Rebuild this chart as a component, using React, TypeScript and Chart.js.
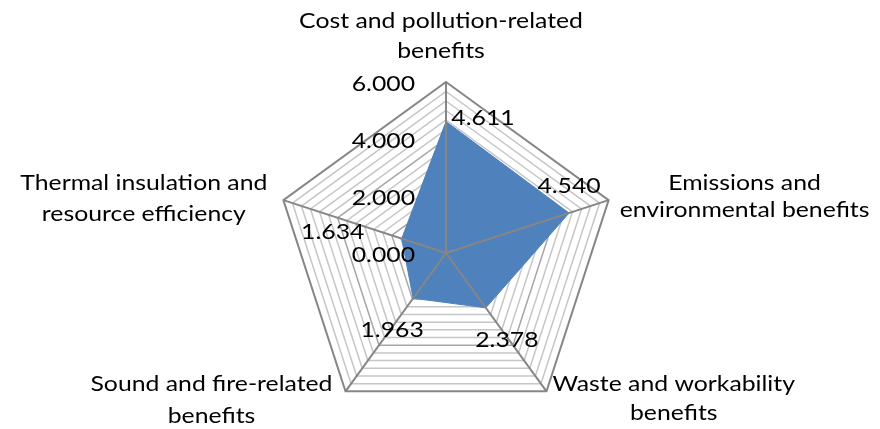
import React, { useEffect, useRef } from 'react';
import { Chart, registerables } from 'chart.js';

Chart.register(...registerables);

// ---- data ----
const CATEGORIES: string[][] = [
  ['Cost and pollution-related', 'benefits'],
  ['Emissions and', 'environmental benefits'],
  ['Waste and workability', 'benefits'],
  ['Sound and fire-related', 'benefits'],
  ['Thermal insulation and', 'resource efficiency'],
];
const VALUES: number[] = [4.611, 4.54, 2.378, 1.963, 1.634];
const VALUE_LABELS: string[] = ['4.611', '4.540', '2.378', '1.963', '1.634'];
const TICK_VALUES: number[] = [0, 2, 4, 6];
const TICK_LABELS: string[] = ['0.000', '2.000', '4.000', '6.000'];
const AXIS_MIN = 0;
const AXIS_MAX = 6;
const MAJOR_STEP = 2;
const MINOR_PER_MAJOR = 6;

// ---- style ----
const FONT_FAMILY = 'Lato, "Open Sans", sans-serif';
const FONT_SIZE = 21;
const X_STRETCH = 1.18;
const TEXT_COLOR = '#000000';
const FILL_COLOR = '#4F81BD';
const SPOKE_COLOR = '#868686';
const OUTER_COLOR = '#868686';
const MAJOR_COLOR = '#a6a6a6';
const MINOR_COLOR = '#c6c6c6';

// label placement relative to points / vertices (style, not data)
const VALUE_LABEL_OFFSETS: [number, number][] = [
  [37, -3],
  [0, -27],
  [21, 32],
  [-21, 32],
  [-69, -6],
];
const CAT_LABEL_LAYOUT = [
  { align: 'center', dx: -5, dy: -61, lh: 30 },
  { align: 'left', dx: 11, dy: -17, lh: 27 },
  { align: 'left', dx: 6, dy: -7, lh: 29 },
  { align: 'right', dx: -13, dy: -7, lh: 32 },
  { align: 'right', dx: -16, dy: -17, lh: 31 },
];

const RINGS: number[] = [];
for (let k = 0; k <= ((AXIS_MAX - AXIS_MIN) / MAJOR_STEP) * MINOR_PER_MAJOR; k++) {
  RINGS.push(AXIS_MIN + (k * MAJOR_STEP) / MINOR_PER_MAJOR);
}

const isMajor = (v: number) => Math.abs(v / MAJOR_STEP - Math.round(v / MAJOR_STEP)) < 1e-6;

function drawText(ctx: CanvasRenderingContext2D, text: string, x: number, y: number, align: CanvasTextAlign) {
  ctx.save();
  ctx.translate(x, y);
  ctx.scale(X_STRETCH, 1);
  ctx.textAlign = align;
  ctx.fillText(text, 0, 0);
  ctx.restore();
}

const overlayPlugin = {
  id: 'overlay',
  afterDatasetsDraw(chart: any) {
    const scale = chart.scales.r;
    const ctx: CanvasRenderingContext2D = chart.ctx;
    const cx = scale.xCenter;
    const cy = scale.yCenter;
    const n = CATEGORIES.length;
    ctx.save();
    ctx.strokeStyle = SPOKE_COLOR;
    ctx.lineWidth = 2;
    for (let i = 0; i < n; i++) {
      const p = scale.getPointPosition(i, scale.drawingArea);
      ctx.beginPath();
      ctx.moveTo(cx, cy);
      ctx.lineTo(p.x, p.y);
      ctx.stroke();
    }
    ctx.font = `${FONT_SIZE}px ${FONT_FAMILY}`;
    ctx.fillStyle = TEXT_COLOR;
    ctx.textBaseline = 'middle';
    TICK_VALUES.forEach((v, i) => {
      const d = scale.getDistanceFromCenterForValue(v);
      drawText(ctx, TICK_LABELS[i], cx - 31, cy - d + 2, 'right');
    });
    VALUES.forEach((v, i) => {
      const p = scale.getPointPosition(i, scale.getDistanceFromCenterForValue(v));
      const [ox, oy] = VALUE_LABEL_OFFSETS[i];
      drawText(ctx, VALUE_LABELS[i], p.x + ox, p.y + oy, 'center');
    });
    CATEGORIES.forEach((lines, i) => {
      const p = scale.getPointPosition(i, scale.drawingArea);
      const lay = CAT_LABEL_LAYOUT[i];
      const w = Math.max(...lines.map((l) => ctx.measureText(l).width)) * X_STRETCH;
      let centerX = p.x + lay.dx;
      if (lay.align === 'left') centerX = p.x + lay.dx + w / 2;
      if (lay.align === 'right') centerX = p.x + lay.dx - w / 2;
      lines.forEach((l, j) => {
        drawText(ctx, l, centerX, p.y + lay.dy + j * lay.lh, 'center');
      });
    });
    ctx.restore();
  },
};

export default function App() {
  const ref = useRef<HTMLCanvasElement | null>(null);
  useEffect(() => {
    if (!ref.current) return;
    const chart = new Chart(ref.current, {
      type: 'radar',
      data: {
        labels: CATEGORIES.map((c) => c.join(' ')),
        datasets: [
          {
            data: VALUES,
            backgroundColor: FILL_COLOR,
            borderColor: FILL_COLOR,
            borderWidth: 1,
            fill: true,
            pointRadius: 0,
            pointHoverRadius: 0,
          },
        ],
      },
      options: {
        animation: false,
        responsive: false,
        devicePixelRatio: 1,
        events: [],
        layout: { padding: { left: 275, right: 263, top: 82, bottom: 5 } },
        plugins: { legend: { display: false }, tooltip: { enabled: false }, title: { display: false } },
        scales: {
          r: {
            min: AXIS_MIN,
            max: AXIS_MAX,
            afterBuildTicks: (scale: any) => {
              scale.ticks = RINGS.map((v) => ({ value: v }));
            },
            ticks: { display: false },
            pointLabels: { display: false },
            angleLines: { display: false },
            grid: {
              color: (c: any) => {
                const v = c.tick ? c.tick.value : 0;
                if (Math.abs(v - AXIS_MAX) < 1e-6) return OUTER_COLOR;
                return isMajor(v) ? MAJOR_COLOR : MINOR_COLOR;
              },
              lineWidth: (c: any) => {
                const v = c.tick ? c.tick.value : 0;
                return Math.abs(v - AXIS_MAX) < 1e-6 ? 2 : 1.5;
              },
            },
          },
        },
      } as any,
      plugins: [overlayPlugin],
    });
    return () => chart.destroy();
  }, []);
  return (
    <div style={{ position: 'absolute', left: 0, top: 0, width: 880, height: 429, background: '#fff' }}>
      <canvas ref={ref} width={880} height={429} style={{ width: 880, height: 429, display: 'block' }} />
    </div>
  );
}
